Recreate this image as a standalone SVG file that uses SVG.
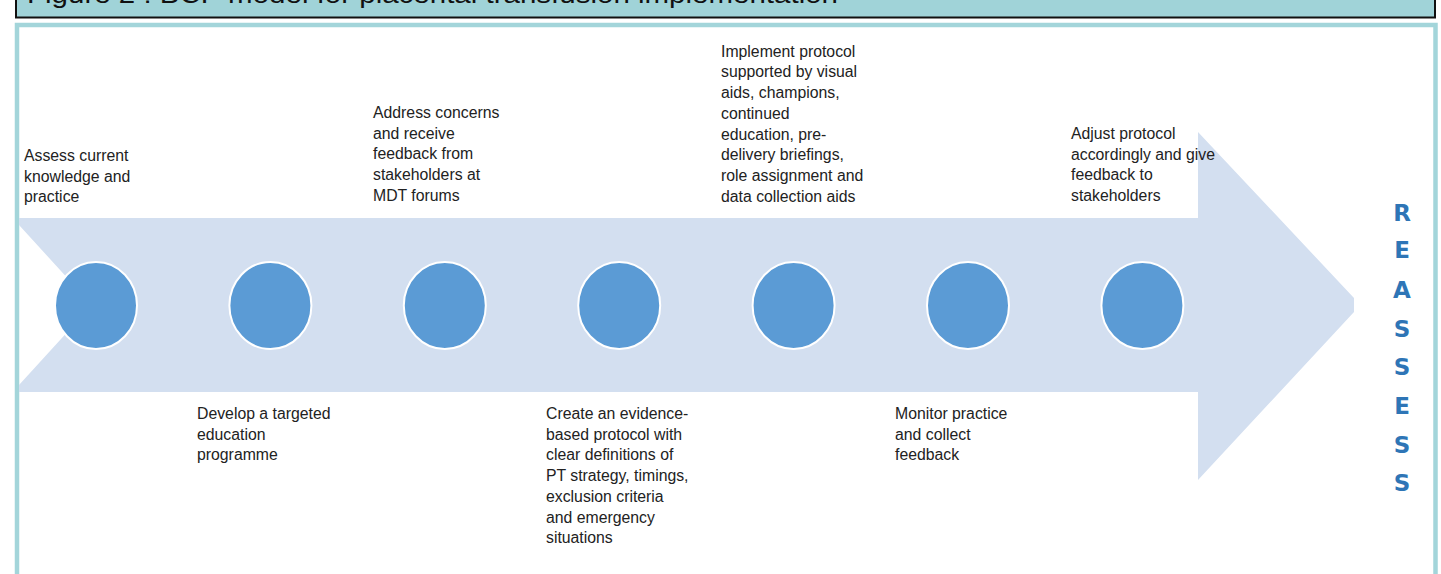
<svg xmlns="http://www.w3.org/2000/svg" width="1441" height="574" viewBox="0 0 1441 574">
  <style>
    .label { font-family: "Liberation Sans", Arial, sans-serif; font-size: 15.8px; fill: #222222; }
    .step { fill: #5b9bd5; stroke: #ffffff; stroke-width: 2; }
    .band { fill: #d3dff0; }
    .reassess { font-family: "DejaVu Sans", "Liberation Sans", sans-serif; font-weight: bold; font-size: 23px; fill: #2e75b6; text-anchor: middle; }
    .title { font-family: "Liberation Sans", Arial, sans-serif; font-size: 25px; fill: #111111; }
  </style>

  <rect width="1441" height="574" fill="#ffffff"/>

  <!-- caption bar -->
  <g id="caption">
    <rect x="16" y="-20" width="1419" height="37.5" fill="#a0d3d8" stroke="#111111" stroke-width="2"/>
    <text class="title" x="27" y="2.5" textLength="811" lengthAdjust="spacingAndGlyphs">Figure 2 : BCP model for placental transfusion implementation</text>
  </g>

  <!-- outer frame -->
  <rect id="frame" x="17" y="25" width="1418.5" height="600" fill="#ffffff" stroke="#a3d5da" stroke-width="4.5"/>

  <!-- process arrow -->
  <g id="connectors">
    <polygon class="band" points="19,218 1198,218 1198,132 1354,298 1354,312 1198,480 1198,392 19,392 19,385 92,305 19,225"/>
  </g>

  <g id="step-1">
    <ellipse class="step" cx="96" cy="305.5" rx="41" ry="43.5"/>
    <text class="label" x="24" y="161">
      <tspan x="24">Assess current</tspan>
      <tspan x="24" dy="20.7">knowledge and</tspan>
      <tspan x="24" dy="20.7">practice</tspan>
    </text>
  </g>

  <g id="step-2">
    <ellipse class="step" cx="270.4" cy="305.5" rx="41" ry="43.5"/>
    <text class="label" x="197" y="419">
      <tspan x="197">Develop a targeted</tspan>
      <tspan x="197" dy="20.7">education</tspan>
      <tspan x="197" dy="20.7">programme</tspan>
    </text>
  </g>

  <g id="step-3">
    <ellipse class="step" cx="444.8" cy="305.5" rx="41" ry="43.5"/>
    <text class="label" x="373" y="118">
      <tspan x="373">Address concerns</tspan>
      <tspan x="373" dy="20.7">and receive</tspan>
      <tspan x="373" dy="20.7">feedback from</tspan>
      <tspan x="373" dy="20.7">stakeholders at</tspan>
      <tspan x="373" dy="20.7">MDT forums</tspan>
    </text>
  </g>

  <g id="step-4">
    <ellipse class="step" cx="619.2" cy="305.5" rx="41" ry="43.5"/>
    <text class="label" x="546" y="419">
      <tspan x="546">Create an evidence-</tspan>
      <tspan x="546" dy="20.7">based protocol with</tspan>
      <tspan x="546" dy="20.7">clear definitions of</tspan>
      <tspan x="546" dy="20.7">PT strategy, timings,</tspan>
      <tspan x="546" dy="20.7">exclusion criteria</tspan>
      <tspan x="546" dy="20.7">and emergency</tspan>
      <tspan x="546" dy="20.7">situations</tspan>
    </text>
  </g>

  <g id="step-5">
    <ellipse class="step" cx="793.6" cy="305.5" rx="41" ry="43.5"/>
    <text class="label" x="721" y="56.7">
      <tspan x="721">Implement protocol</tspan>
      <tspan x="721" dy="20.7">supported by visual</tspan>
      <tspan x="721" dy="20.7">aids, champions,</tspan>
      <tspan x="721" dy="20.7">continued</tspan>
      <tspan x="721" dy="20.7">education, pre-</tspan>
      <tspan x="721" dy="20.7">delivery briefings,</tspan>
      <tspan x="721" dy="20.7">role assignment and</tspan>
      <tspan x="721" dy="20.7">data collection aids</tspan>
    </text>
  </g>

  <g id="step-6">
    <ellipse class="step" cx="968" cy="305.5" rx="41" ry="43.5"/>
    <text class="label" x="895" y="419">
      <tspan x="895">Monitor practice</tspan>
      <tspan x="895" dy="20.7">and collect</tspan>
      <tspan x="895" dy="20.7">feedback</tspan>
    </text>
  </g>

  <g id="step-7">
    <ellipse class="step" cx="1142.4" cy="305.5" rx="41" ry="43.5"/>
    <text class="label" x="1071" y="139">
      <tspan x="1071">Adjust protocol</tspan>
      <tspan x="1071" dy="20.7">accordingly and give</tspan>
      <tspan x="1071" dy="20.7">feedback to</tspan>
      <tspan x="1071" dy="20.7">stakeholders</tspan>
    </text>
  </g>

  <!-- vertical loop-back label -->
  <g id="reassess">
    <text class="reassess" x="1402" y="221">R</text>
    <text class="reassess" x="1402" y="258">E</text>
    <text class="reassess" x="1402" y="298">A</text>
    <text class="reassess" x="1402" y="337">S</text>
    <text class="reassess" x="1402" y="375">S</text>
    <text class="reassess" x="1402" y="414">E</text>
    <text class="reassess" x="1402" y="453">S</text>
    <text class="reassess" x="1402" y="491">S</text>
  </g>
</svg>
